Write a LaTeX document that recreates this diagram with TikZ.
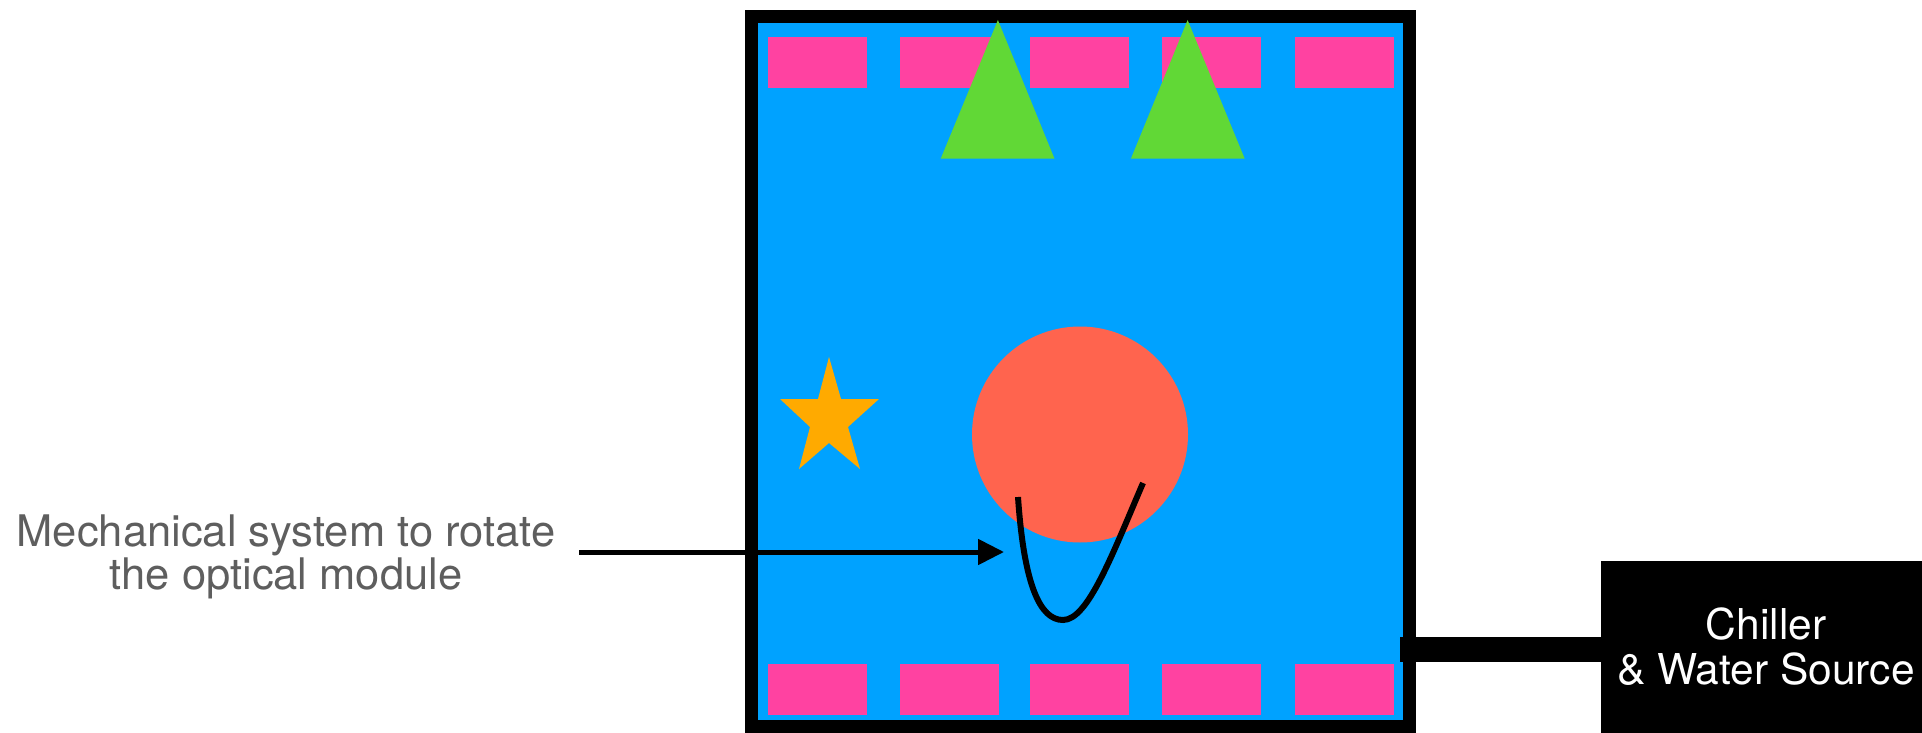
\documentclass[tikz,border=0pt]{standalone}
\usepackage{fontspec}
\setmainfont{TeX Gyre Heros}
\usetikzlibrary{arrows.meta}
\definecolor{tankblue}{HTML}{00A2FF}
\definecolor{heaterpink}{HTML}{FF42A1}
\definecolor{lampgreen}{HTML}{61D836}
\definecolor{modulecoral}{HTML}{FF644E}
\definecolor{starorange}{HTML}{FFAA00}
\definecolor{labelgray}{HTML}{5E5E5E}
\tikzset{
  tankbox/.style={draw=black, fill=tankblue, line width=13pt, inner sep=0pt, outer sep=0pt},
  heater/.style={fill=heaterpink},
  lamp/.style={fill=lampgreen},
  chillerbox/.style={fill=black, text=white, align=center, inner sep=0pt, outer sep=0pt,
    font=\fontsize{42.5}{45}\selectfont},
  labeltext/.style={text=labelgray, align=center, font=\fontsize{43.5}{43.5}\selectfont},
  thickline/.style={line width=5pt, line cap=butt},
  pipe/.style={line width=25pt, draw=black}
}
\begin{document}
\begin{tikzpicture}[x=1pt,y=-1pt]
\useasboundingbox (0,0) rectangle (1922,733);
% tank
\node[tankbox, minimum width=658pt, minimum height=710pt] (tank) at (1080.5,371.5) {};
% heaters
\foreach \hx in {767.5,899.6,1030,1162,1294.7}{
  \fill[heater] (\hx,37) rectangle ++(99,51);
  \fill[heater] (\hx,664) rectangle ++(99,51);
}
% lamps
\fill[lamp] (997.9,20) -- (940.7,158.7) -- (1054.5,158.7) -- cycle;
\fill[lamp] (1187.6,20) -- (1130.9,158.7) -- (1244.7,158.7) -- cycle;
% star
\fill[starorange] (829,357) -- (841,399) -- (879,399) -- (848,427) -- (860,469)
  -- (829,443) -- (799,469) -- (810,427) -- (780,399) -- (818,399) -- cycle;
% optical module
\fill[modulecoral] (1080,434.5) circle[radius=108pt];
% mechanical arm
\draw[thickline, line width=6pt] (1018,497) .. controls (1024,585) and (1040,620) .. (1063,620)
  .. controls (1088,620) and (1112,555) .. (1143,483);
% label and arrow
\node[labeltext] (label) at (286,557) {Mechanical system to rotate\\the optical module};
\coordinate (arrowstart) at (579,552);
\coordinate (armtip) at (1004,552);
\draw[thickline, -{Triangle[length=26pt,width=25pt]}] (arrowstart) -- (armtip);
% chiller
\node[chillerbox, minimum width=330pt, minimum height=172pt] (chiller) at (1766,647)
  {Chiller\\\& Water Source};
\draw[pipe] ([xshift=-9.5pt]tank.east |- 0,649) -- (chiller.west |- 0,649);
\end{tikzpicture}
\end{document}
